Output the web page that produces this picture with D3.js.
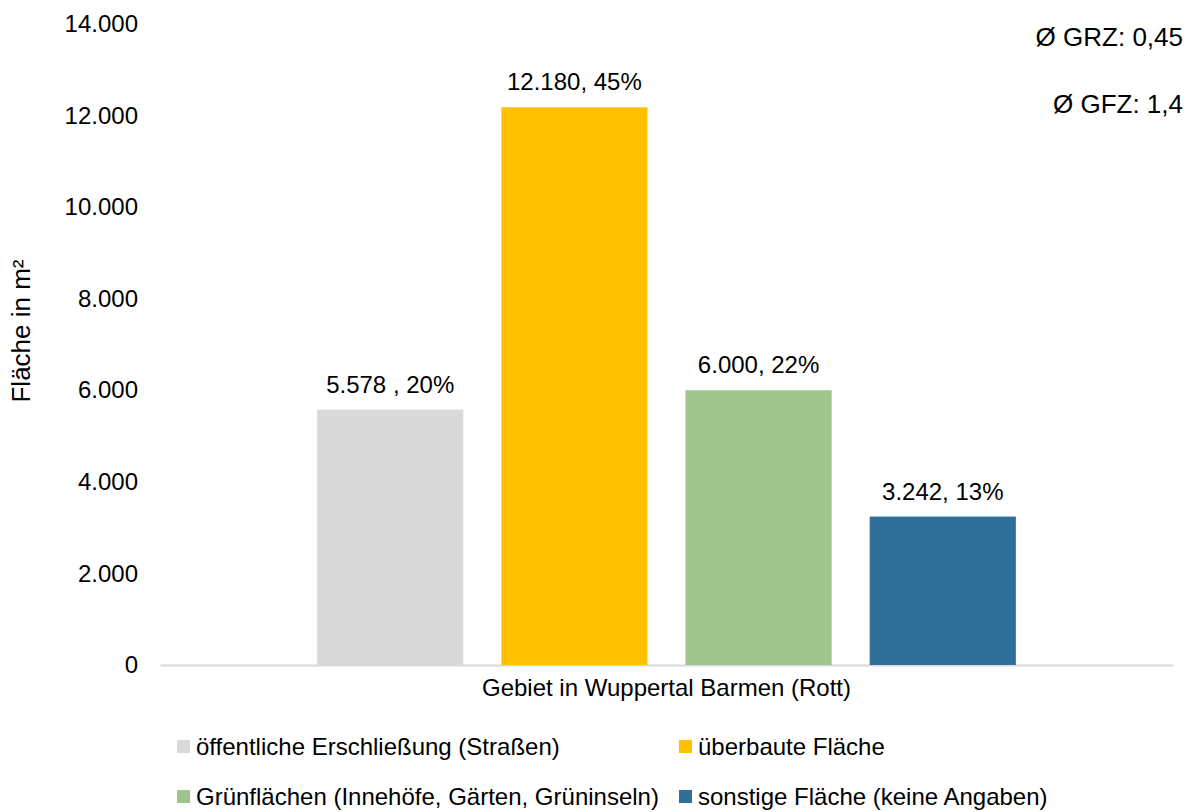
<!DOCTYPE html>
<html><head><meta charset="utf-8">
<script src="https://cdn.jsdelivr.net/npm/d3@7"></script>
<style>body{margin:0;background:#fff}svg{display:block;font-family:"Liberation Sans",Arial,sans-serif}</style>
</head><body><svg id="c" width="1195" height="812"></svg>
<script>
const category = ["Gebiet in Wuppertal Barmen (Rott)"];
const series = ["öffentliche Erschließung (Straßen)", "überbaute Fläche", "Grünflächen (Innehöfe, Gärten, Grüninseln)", "sonstige Fläche (keine Angaben)"];
const values = [5578, 12180, 6000, 3242];
const labels = ["5.578 , 20%", "12.180, 45%", "6.000, 22%", "3.242, 13%"];
const colors = ["#D9D9D9", "#FFC000", "#A0C48D", "#2E7098"];
const yTicks = [0, 2000, 4000, 6000, 8000, 10000, 12000, 14000];
const notes = ["Ø GRZ: 0,45", "Ø GFZ: 1,4"];

const svg = d3.select("#c");
const fs = 24;
const FF = "Liberation Sans, Arial, sans-serif";
const y = d3.scaleLinear().domain([0, 14000]).range([665, 24]);
const x0 = d3.scaleBand().domain(category).range([160, 1173]).paddingInner(0).paddingOuter(0.2249);
const x1 = d3.scaleBand().domain(series).range([0, x0.bandwidth()]).paddingInner(0.2065).paddingOuter(0);
const fmt = d => d === 0 ? "0" : d3.format(",")(d).replace(/,/g, ".");

// y axis
const yAxis = svg.append("g").attr("transform", "translate(138,0)")
  .call(d3.axisLeft(y).tickValues(yTicks).tickFormat(fmt).tickSize(0).tickPadding(0));
yAxis.select(".domain").remove();
yAxis.attr("font-family", FF).attr("font-size", fs);
yAxis.selectAll("text").attr("fill", "#000");

// baseline / x axis
const xAxis = svg.append("g").attr("transform", `translate(0,${y(0)})`)
  .call(d3.axisBottom(x0).tickSize(0).tickPadding(14));
xAxis.select(".domain").attr("stroke", "#D9D9D9").attr("stroke-width", 2);
xAxis.attr("font-family", FF).attr("font-size", fs);
xAxis.selectAll("text").attr("fill", "#000");

// bars
const g = svg.append("g").attr("transform", `translate(${x0(category[0])},0)`);
g.selectAll("rect").data(series).join("rect")
  .attr("x", d => x1(d)).attr("width", x1.bandwidth())
  .attr("y", (d, i) => y(values[i])).attr("height", (d, i) => y(0) - y(values[i]))
  .attr("fill", (d, i) => colors[i]);
g.selectAll("text.lbl").data(series).join("text").attr("class", "lbl")
  .attr("x", d => x1(d) + x1.bandwidth() / 2)
  .attr("y", (d, i) => y(values[i]) - 17)
  .attr("text-anchor", "middle").attr("font-size", fs).attr("fill", "#000")
  .text((d, i) => labels[i]);

// y title
svg.append("text").attr("transform", "translate(30,331) rotate(-90)")
  .attr("text-anchor", "middle").attr("font-size", 26).attr("fill", "#000")
  .text("Fläche in m²");

// notes
svg.selectAll("text.note").data(notes).join("text").attr("class", "note")
  .attr("x", 1183).attr("y", (d, i) => 46 + i * 67)
  .attr("text-anchor", "end").attr("font-size", 26).attr("fill", "#000").text(d => d);

// legend
const legPos = [[177, 747], [679, 747], [177, 797], [679, 797]];
const leg = svg.selectAll("g.leg").data(series).join("g").attr("class", "leg")
  .attr("transform", (d, i) => `translate(${legPos[i][0]},${legPos[i][1]})`);
leg.append("rect").attr("x", 0).attr("y", -7).attr("width", 13).attr("height", 13).attr("fill", (d, i) => colors[i]);
leg.append("text").attr("x", 19).attr("y", 0).attr("dy", "0.35em").attr("font-size", fs).attr("fill", "#000").text(d => d);
</script></body></html>
